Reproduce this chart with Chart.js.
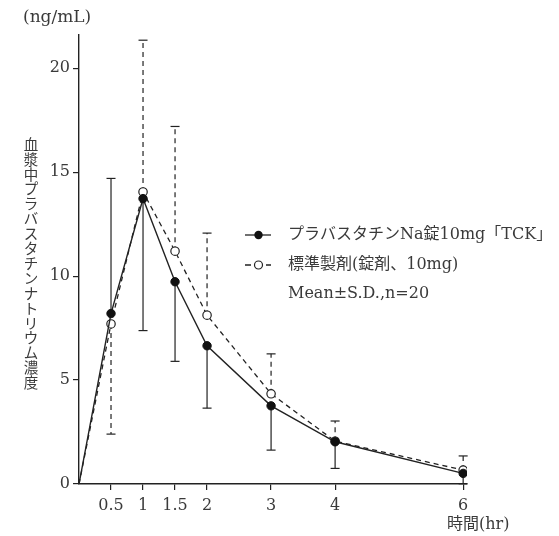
<!DOCTYPE html>
<html>
<head>
<meta charset="utf-8">
<script src="https://cdn.jsdelivr.net/npm/chart.js@4"></script>
<style>
  html, body { margin: 0; padding: 0; background: #fff; }
  #wrap { width: 559px; height: 536px; position: relative; }
</style>
</head>
<body>
<div id="wrap"><canvas id="chart"></canvas></div>
<script>
// time (hr) and plasma concentration (ng/mL)
const times = [0, 0.5, 1, 1.5, 2, 3, 4, 6];
const testMean = [0, 8.2, 13.73, 9.73, 6.65, 3.76, 2.03, 0.51];
const testSD = [0, 6.5, 6.35, 3.83, 3.0, 2.13, 1.28, 0.5];
const refMean = [0, 7.7, 14.05, 11.2, 8.12, 4.34, 2.06, 0.67];
const refSD = [0, 5.3, 7.3, 6.0, 3.95, 1.92, 0.97, 0.68];
const xTicks = [0.5, 1, 1.5, 2, 3, 4, 6];
const yTicks = [0, 5, 10, 15, 20];

const testLabel = 'プラバスタチンNa錠10mg「TCK」';
const refLabel = '標準製剤(錠剤、10mg)';
const noteLabel = 'Mean±S.D.,n=20';
const yTitle = '血漿中プラバスタチンナトリウム濃度';
const yUnit = '(ng/mL)';
const xTitle = '時間(hr)';

const FONT = "'DejaVu Serif', 'Noto Sans CJK JP', serif";
const INK = '#222';
const TEXT = '#3a3a3a';

function pts(ys) {
    return times.map((t, i) => ({ x: t, y: ys[i] }));
}

// one-sided S.D. bars, pointing away from the other series
const errorBars = {
    id: 'errorBars',
    beforeDatasetsDraw(chart) {
        const ctx = chart.ctx;
        const xs = chart.scales.x, ys = chart.scales.y;
        ctx.save();
        ctx.strokeStyle = INK;
        ctx.lineWidth = 1.2;
        times.forEach((t, i) => {
            if (i === 0) return;
            const testUp = testMean[i] >= refMean[i];
            const bars = [
                { m: testMean[i], sd: testSD[i], up: testUp, dash: [] },
                { m: refMean[i], sd: refSD[i], up: !testUp, dash: [5, 4] }
            ];
            const px = xs.getPixelForValue(t);
            bars.forEach(b => {
                const end = b.up ? b.m + b.sd : Math.max(0, b.m - b.sd);
                const y0 = ys.getPixelForValue(b.m);
                const y1 = ys.getPixelForValue(end);
                ctx.setLineDash(b.dash);
                ctx.beginPath();
                ctx.moveTo(px, y0);
                ctx.lineTo(px, y1);
                ctx.stroke();
                ctx.setLineDash([]);
                ctx.beginPath();
                ctx.moveTo(px - 4.5, y1);
                ctx.lineTo(px + 4.5, y1);
                ctx.stroke();
            });
        });
        ctx.restore();
    }
};

const labels = {
    id: 'labels',
    afterDraw(chart) {
        const ctx = chart.ctx;
        ctx.save();
        ctx.fillStyle = TEXT;
        ctx.font = '17px ' + FONT;
        ctx.textBaseline = 'middle';
        ctx.textAlign = 'left';
        ctx.fillText(yUnit, 23, 18);
        ctx.font = '16px ' + FONT;
        ctx.fillText(xTitle, 447, 525);

        // vertical axis title, one character per row
        ctx.textAlign = 'center';
        ctx.font = '14.5px ' + FONT;
        Array.from(yTitle).forEach((ch, i) => {
            ctx.fillText(ch, 31, 146 + i * 14.9);
        });

        // legend
        ctx.textAlign = 'left';
        ctx.font = '16px ' + FONT;
        ctx.strokeStyle = INK;
        ctx.lineWidth = 1.3;
        const lx = 288;
        const rows = [235, 265, 294];
        ctx.beginPath();
        ctx.moveTo(245, rows[0]);
        ctx.lineTo(271, rows[0]);
        ctx.stroke();
        ctx.fillStyle = '#111';
        ctx.beginPath();
        ctx.arc(258.5, rows[0], 4.2, 0, Math.PI * 2);
        ctx.fill();
        ctx.beginPath();
        ctx.moveTo(245, rows[1]);
        ctx.lineTo(251, rows[1]);
        ctx.moveTo(266, rows[1]);
        ctx.lineTo(271, rows[1]);
        ctx.stroke();
        ctx.fillStyle = '#fff';
        ctx.lineWidth = 1.2;
        ctx.beginPath();
        ctx.arc(258.5, rows[1], 4, 0, Math.PI * 2);
        ctx.fill();
        ctx.stroke();
        ctx.fillStyle = TEXT;
        ctx.fillText(testLabel, lx, rows[0]);
        ctx.fillText(refLabel, lx, rows[1]);
        ctx.fillText(noteLabel, lx, rows[2]);
        ctx.restore();
    }
};

const radii = times.map((t, i) => (i === 0 ? 0 : 4.2));

new Chart(document.getElementById('chart'), {
    type: 'line',
    data: {
        datasets: [{
            label: testLabel,
            data: pts(testMean),
            borderColor: INK,
            borderWidth: 1.4,
            backgroundColor: '#111',
            pointBackgroundColor: '#111',
            pointBorderColor: '#111',
            pointRadius: radii,
            pointBorderWidth: 1,
            tension: 0
        }, {
            label: refLabel,
            data: pts(refMean),
            borderColor: INK,
            borderWidth: 1.3,
            borderDash: [5, 4],
            pointBackgroundColor: '#fff',
            pointBorderColor: INK,
            pointRadius: radii,
            pointBorderWidth: 1.2,
            tension: 0
        }]
    },
    options: {
        responsive: true,
        maintainAspectRatio: false,
        animation: false,
        layout: { padding: { left: 0, top: 35, right: 92, bottom: 0 } },
        plugins: {
            legend: { display: false },
            tooltip: { enabled: false }
        },
        scales: {
            x: {
                type: 'linear',
                min: 0,
                max: 6.06,
                afterBuildTicks: axis => { axis.ticks = xTicks.map(v => ({ value: v })); },
                afterFit: axis => { axis.height = 52; },
                grid: { drawOnChartArea: false, drawTicks: true, tickLength: 6, color: INK, lineWidth: 1.2 },
                border: { display: true, color: INK, width: 1.4 },
                ticks: {
                    color: TEXT,
                    font: { family: FONT, size: 16 },
                    padding: 6,
                    maxRotation: 0,
                    autoSkip: false,
                    callback: v => String(v)
                }
            },
            y: {
                min: 0,
                max: 21.6,
                afterBuildTicks: axis => { axis.ticks = yTicks.map(v => ({ value: v })); },
                afterFit: axis => { axis.width = 79; },
                grid: { drawOnChartArea: false, drawTicks: true, tickLength: 6, color: INK, lineWidth: 1.2 },
                border: { display: true, color: INK, width: 1.4 },
                ticks: {
                    color: TEXT,
                    font: { family: FONT, size: 16 },
                    padding: 3,
                    callback: v => String(v)
                }
            }
        }
    },
    plugins: [errorBars, labels]
});
</script>
</body>
</html>
